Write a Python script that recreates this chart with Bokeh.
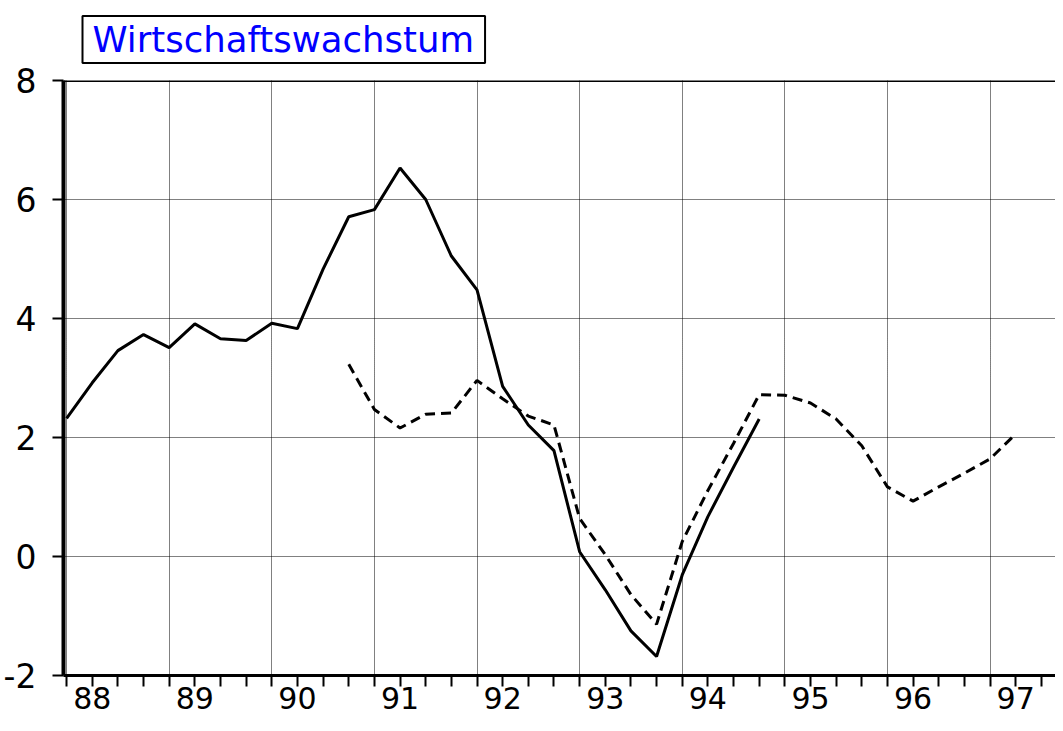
from bokeh.plotting import figure
from bokeh.models import FixedTicker, Span
from bokeh.embed import file_html
from bokeh.resources import INLINE

# ---- data ----
quarters = [f"{y}Q{q}" for y in range(1988, 1998) for q in range(1, 5)][:38]
year_labels = ["88", "89", "90", "91", "92", "93", "94", "95", "96", "97"]

solid_start = "1988Q1"
solid_values = [2.32, 2.92, 3.46, 3.73,
                3.51, 3.91, 3.66, 3.63,
                3.92, 3.83, 4.83, 5.71,
                5.83, 6.53, 6.00, 5.05,
                4.48, 2.86, 2.21, 1.78,
                0.08, -0.56, -1.25, -1.68,
                -0.31, 0.67, 1.50, 2.31]

dashed_start = "1990Q4"
dashed_values = [3.23,
                 2.47, 2.16, 2.39, 2.41,
                 2.96, 2.65, 2.36, 2.21,
                 0.64, 0.03, -0.64, -1.14,
                 0.25, 1.11, 1.90, 2.72,
                 2.71, 2.58, 2.31, 1.86,
                 1.17, 0.93, 1.17, 1.40,
                 1.64, 2.06]

y_ticks = [-2, 0, 2, 4, 6, 8]
y_tick_labels = ["-2", "0", "2", "4", "6", "8"]

# ---- positions (quarter index) ----
s0 = quarters.index(solid_start)
d0 = quarters.index(dashed_start)
solid_x = [s0 + i for i in range(len(solid_values))]
dashed_x = [d0 + i for i in range(len(dashed_values))]

tick_pos = list(range(len(quarters) + 1))
year_pos = [quarters.index(f"19{lab}Q1") for lab in year_labels]
label_pos = {quarters.index(f"19{lab}Q2"): lab for lab in year_labels}
overrides = {t: label_pos.get(t, "") for t in tick_pos}

W = 1055
FRAME_W = 990
PX_PER_Q = 25.6
x0 = -0.12
p = figure(width=W, height=715, output_backend="svg", toolbar_location=None,
           x_range=(x0, x0 + FRAME_W / PX_PER_Q), y_range=(-2, 8),
           min_border_left=0, min_border_right=0, min_border_top=0,
           min_border_bottom=0)
p.outline_line_color = None
p.background_fill_color = "white"
p.border_fill_color = "white"

# title
p.title.text = "Wirtschaftswachstum"
p.title.text_font = "DejaVu Sans"
p.title.text_font_size = "35.5px"
p.title.text_font_style = "normal"
p.title.text_color = "#0000FF"
p.title.align = "left"
p.title.vertical_align = "top"
p.title.offset = 19
p.title.standoff = 31
p.title.border_line_color = "black"
p.title.border_line_width = 2
p.title.padding = (10, 11, 3, 3)

# lines
p.line(solid_x, solid_values, line_color="black", line_width=3)
p.line(dashed_x, dashed_values, line_color="black", line_width=3, line_dash="10 6")

# top border
p.add_layout(Span(location=8, dimension="width", line_color="black", line_width=3))

# y axis
p.yaxis.ticker = FixedTicker(ticks=y_ticks)
p.yaxis.major_label_overrides = dict(zip(y_ticks, y_tick_labels))
p.yaxis.axis_line_width = 4
p.yaxis.axis_line_color = "black"
p.yaxis.major_tick_line_width = 2
p.yaxis.major_tick_out = 11
p.yaxis.major_tick_in = 0
p.yaxis.minor_tick_line_color = None
p.yaxis.major_label_text_font = "DejaVu Sans"
p.yaxis.major_label_text_font_size = "33px"
p.yaxis.major_label_text_color = "black"
p.yaxis.major_label_standoff = 16

# x axis
p.xaxis.ticker = FixedTicker(ticks=tick_pos)
p.xaxis.major_label_overrides = overrides
p.xaxis.axis_line_width = 3
p.xaxis.axis_line_color = "black"
p.xaxis.major_tick_line_width = 2
p.xaxis.major_tick_out = 11
p.xaxis.major_tick_in = 0
p.xaxis.minor_tick_line_color = None
p.xaxis.major_label_text_font = "DejaVu Sans"
p.xaxis.major_label_text_font_size = "30px"
p.xaxis.major_label_text_color = "black"
p.xaxis.major_label_standoff = 0
p.xaxis.axis_label = "\u00a0"
p.xaxis.axis_label_text_font_size = "1px"
p.xaxis.axis_label_standoff = 0

# grids
p.xgrid.ticker = FixedTicker(ticks=year_pos)
for g in (p.xgrid, p.ygrid):
    g.grid_line_color = "black"
    g.grid_line_dash = "1 1"
    g.grid_line_width = 1

open("out.html", "w").write(file_html(p, INLINE))
